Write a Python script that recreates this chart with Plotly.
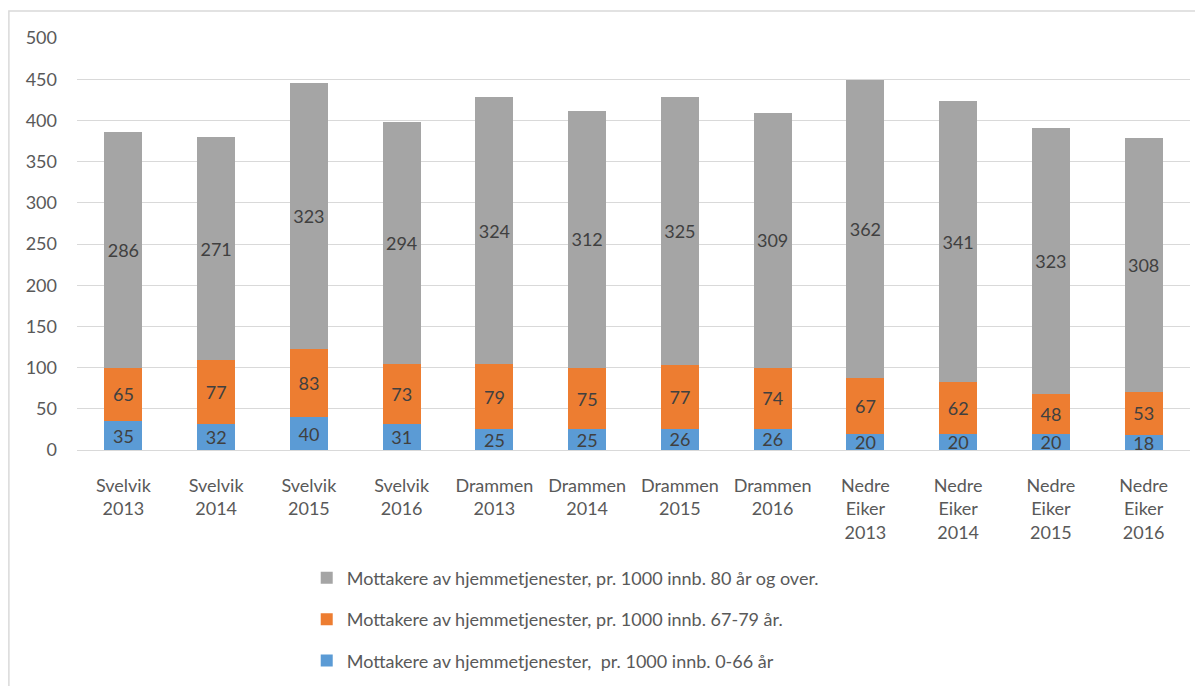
import plotly.graph_objects as go

categories = ["Svelvik<br>2013", "Svelvik<br>2014", "Svelvik<br>2015", "Svelvik<br>2016",
              "Drammen<br>2013", "Drammen<br>2014", "Drammen<br>2015", "Drammen<br>2016",
              "Nedre<br>Eiker<br>2013", "Nedre<br>Eiker<br>2014", "Nedre<br>Eiker<br>2015", "Nedre<br>Eiker<br>2016"]
series_names = ["Mottakere av hjemmetjenester,  pr. 1000 innb. 0-66 år",
                "Mottakere av hjemmetjenester, pr. 1000 innb. 67-79 år.",
                "Mottakere av hjemmetjenester, pr. 1000 innb. 80 år og over."]
age_0_66 = [35, 32, 40, 31, 25, 25, 26, 26, 20, 20, 20, 18]
age_67_79 = [65, 77, 83, 73, 79, 75, 77, 74, 67, 62, 48, 53]
age_80_plus = [286, 271, 323, 294, 324, 312, 325, 309, 362, 341, 323, 308]
colors = ["#5B9BD5", "#ED7D31", "#A5A5A5"]

FONT = "Lato"
fig = go.Figure()
for i, (name, vals) in enumerate(zip(series_names, [age_0_66, age_67_79, age_80_plus])):
    fig.add_trace(go.Bar(
        x=categories, y=vals, name=name,
        marker=dict(color=colors[i], line=dict(width=0)),
        text=[str(v) for v in vals],
        textposition="inside", insidetextanchor="middle", textangle=0,
        textfont=dict(family=FONT, size=18, color="#404040"),
        legendgroup=f"g{i}",
        legendrank=3 - i,
        hoverinfo="skip",
    ))

fig.update_layout(
    barmode="stack",
    bargap=0.59,
    width=1195, height=678,
    margin=dict(l=69, r=13, t=30, b=236, autoexpand=False),
    plot_bgcolor="white", paper_bgcolor="white",
    font=dict(family=FONT, size=18, color="#595959"),
    uniformtext=dict(minsize=18, mode="show"),
    showlegend=True,
    legend=dict(
        orientation="v", traceorder="grouped", tracegroupgap=15,
        x=0.2064, xanchor="left", y=-0.266, yanchor="top",
        font=dict(family=FONT, size=18, color="#595959"),
        itemwidth=30, bgcolor="rgba(0,0,0,0)",
    ),
    xaxis=dict(
        showgrid=False, showline=False, zeroline=False,
        tickfont=dict(family=FONT, size=18, color="#595959"),
        ticklabelstandoff=23, automargin=False,
    ),
    yaxis=dict(
        range=[0, 500], dtick=50, tick0=0,
        showgrid=True, gridcolor="#D9D9D9", gridwidth=1.3,
        zeroline=True, zerolinecolor="#D9D9D9", zerolinewidth=1.3,
        showline=False, automargin=False,
        tickfont=dict(family=FONT, size=18, color="#595959"),
        ticklabelstandoff=19,
    ),
    shapes=[dict(type="rect", xref="paper", yref="paper",
                 x0=-0.0612, x1=1.03, y0=-0.65, y1=1.0655,
                 line=dict(color="#D9D9D9", width=1.5), fillcolor="rgba(0,0,0,0)",
                 layer="below")],
)

fig.write_html("out.html")
